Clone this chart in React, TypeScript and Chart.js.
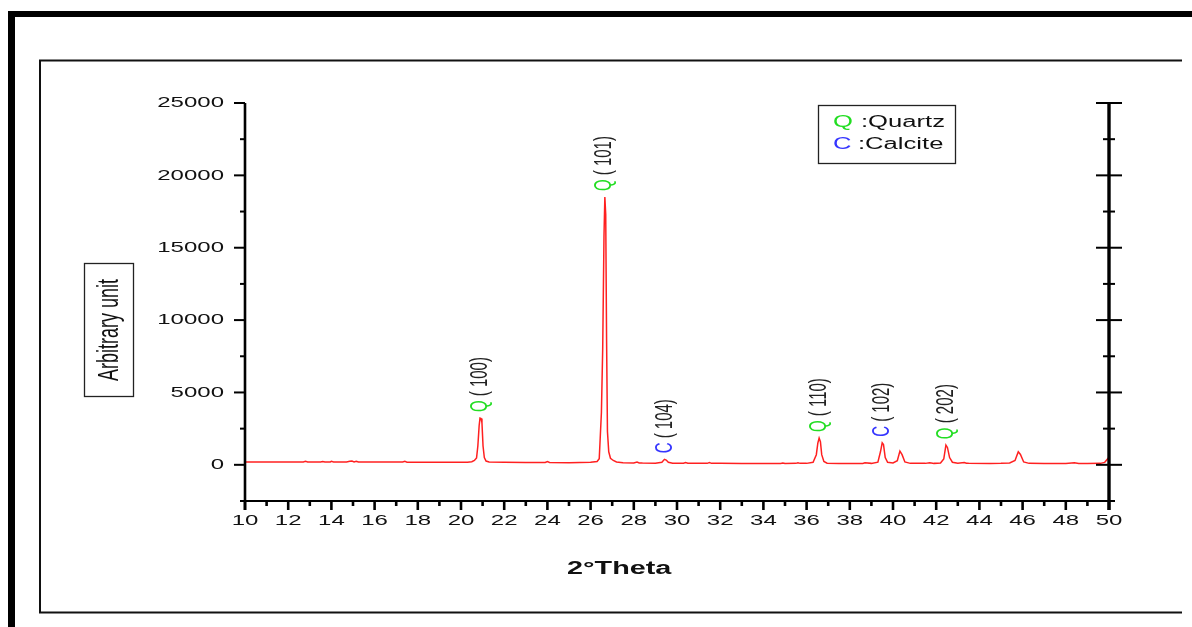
import React, { useEffect, useRef } from 'react';
import { Chart, registerables } from 'chart.js';

Chart.register(...registerables);

// ---- data ----
const twoTheta = [
  10.0, 11.0, 12.0, 12.7, 12.8, 12.9, 13.5, 13.6, 13.7, 13.95, 14.0, 14.1,
  14.7, 14.85, 14.95, 15.05, 15.15, 15.25, 16.0, 17.3, 17.4, 17.5, 18.5, 19.5,
  20.3, 20.5, 20.62, 20.72, 20.78, 20.84, 20.88, 20.93, 20.97, 21.02, 21.08, 21.16,
  21.3, 22.0, 23.0, 23.9, 24.0, 24.1, 25.0, 26.0, 26.3, 26.4, 26.44, 26.5,
  26.56, 26.62, 26.66, 26.7, 26.74, 26.78, 26.84, 26.92, 27.05, 27.2, 27.5, 28.0,
  28.15, 28.25, 28.4, 29.0, 29.3, 29.42, 29.5, 29.6, 29.8, 30.3, 30.4, 30.5,
  31.0, 31.4, 31.5, 31.6, 32.0, 33.0, 34.0, 34.8, 34.9, 35.0, 35.5, 35.6,
  35.7, 36.0, 36.3, 36.45, 36.52, 36.58, 36.64, 36.7, 36.8, 36.95, 37.5, 38.0,
  38.6, 38.7, 39.0, 39.3, 39.42, 39.5, 39.56, 39.64, 39.75, 40.0, 40.2, 40.32,
  40.42, 40.55, 40.8, 41.5, 41.7, 41.9, 42.2, 42.35, 42.45, 42.52, 42.62, 42.75,
  43.0, 43.3, 43.4, 43.5, 44.5, 45.0, 45.4, 45.65, 45.8, 45.9, 46.05, 46.3,
  47.0, 48.0, 48.4, 48.6, 49.0, 49.6, 49.8, 50.0,
];
const intensity = [
  190, 190, 195, 195, 240, 195, 195, 230, 195, 200, 240, 195,
  200, 250, 260, 205, 250, 195, 190, 190, 240, 185, 180, 175,
  180, 210, 300, 480, 1300, 2700, 3230, 3200, 2900, 1300, 500, 260,
  190, 170, 160, 160, 220, 160, 150, 170, 230, 420, 1700, 3600,
  8000, 15800, 18500, 17300, 8600, 2300, 900, 450, 300, 200, 150, 130,
  190, 130, 120, 110, 180, 380, 330, 180, 110, 110, 160, 110,
  100, 100, 150, 100, 100, 90, 90, 90, 130, 90, 100, 140,
  100, 100, 180, 700, 1500, 1850, 1600, 700, 230, 110, 95, 90,
  90, 140, 100, 180, 900, 1520, 1400, 500, 170, 130, 280, 950,
  700, 200, 100, 100, 150, 100, 130, 400, 1360, 1200, 500, 180,
  110, 160, 110, 100, 90, 100, 130, 300, 900, 720, 200, 100,
  90, 90, 140, 90, 90, 100, 170, 520,
];

// peak annotations
const peakTheta = [20.9, 26.66, 29.45, 36.58, 39.5, 42.45];
const peakIntensity = [3230, 18500, 380, 1850, 1520, 1360];
const peakPhase = ['Q', 'Q', 'C', 'Q', 'C', 'Q'];
const peakHkl = ['100', '101', '104', '110', '102', '202'];

// legend
const legendLetters = ['Q', 'C'];
const legendNames = [':Quartz', ':Calcite'];

// tick labels
const xTickLabels = ['10', '12', '14', '16', '18', '20', '22', '24', '26', '28', '30', '32', '34', '36', '38', '40', '42', '44', '46', '48', '50'];
const yTickLabels = ['0', '5000', '10000', '15000', '20000', '25000'];

const xTitle = '2°Theta';
const yTitle = 'Arbitrary unit';

// ---- styles ----
const FONT = '"Liberation Sans", Arial, sans-serif';
const SX = 1.6; // horizontal stretch seen in the reference
const GREEN = '#22dd22';
const BLUE = '#3535ff';
const phaseColor: Record<string, string> = { Q: GREEN, C: BLUE };

function sText(
  ctx: CanvasRenderingContext2D,
  text: string,
  x: number,
  y: number,
  font: string,
  color: string,
  align: CanvasTextAlign,
  rot = false
) {
  ctx.save();
  ctx.translate(x, y);
  ctx.scale(SX, 1);
  if (rot) ctx.rotate(-Math.PI / 2);
  ctx.font = font;
  ctx.fillStyle = color;
  ctx.textAlign = align;
  ctx.textBaseline = 'middle';
  ctx.fillText(text, 0, 0);
  ctx.restore();
}

function line(ctx: CanvasRenderingContext2D, x1: number, y1: number, x2: number, y2: number, w: number) {
  ctx.lineWidth = w;
  ctx.beginPath();
  ctx.moveTo(x1, y1);
  ctx.lineTo(x2, y2);
  ctx.stroke();
}

const decor = {
  id: 'decor',
  beforeDraw(chart: any) {
    const ctx: CanvasRenderingContext2D = chart.ctx;
    ctx.save();
    ctx.fillStyle = '#fff';
    ctx.fillRect(0, 0, chart.width, chart.height);
    // outer thick frame
    ctx.fillStyle = '#000';
    ctx.fillRect(8, 11, 7, chart.height - 11);
    ctx.fillRect(8, 11, chart.width - 8, 6);
    // inner thin frame (left, top, bottom)
    ctx.strokeStyle = '#111';
    ctx.lineWidth = 2;
    ctx.beginPath();
    ctx.moveTo(1182, 60.5);
    ctx.lineTo(40, 60.5);
    ctx.lineTo(40, 612.5);
    ctx.lineTo(1182, 612.5);
    ctx.stroke();
    ctx.restore();
  },
  afterDraw(chart: any) {
    const ctx: CanvasRenderingContext2D = chart.ctx;
    const xs = chart.scales.x;
    const ys = chart.scales.y;
    const { left, right, top, bottom } = chart.chartArea;
    ctx.save();
    ctx.strokeStyle = '#000';
    ctx.lineCap = 'butt';

    // axis lines
    line(ctx, left - 1, bottom, right + 1, bottom, 2.2);
    line(ctx, left, top, left, bottom + 9, 2.6);
    line(ctx, right, top, right, bottom + 9, 3.4);

    // x ticks
    for (const t of xs.ticks) {
      const px = xs.getPixelForValue(t.value);
      const major = Math.round(t.value) % 2 === 0;
      line(ctx, px, bottom, px, bottom + (major ? 9 : 5), 2.6);
    }
    // y ticks (left outward, right crossing)
    for (const t of ys.ticks) {
      const py = ys.getPixelForValue(t.value);
      const major = Math.round(t.value) % 5000 === 0;
      line(ctx, left - (major ? 11 : 5), py, left, py, 2);
      line(ctx, right - (major ? 13 : 6), py, right + (major ? 13 : 6), py, 2);
    }

    // tick labels
    const tickFont = `15px ${FONT}`;
    for (const lab of xTickLabels) {
      const px = xs.getPixelForValue(Number(lab));
      sText(ctx, lab, px, bottom + 20, tickFont, '#111', 'center');
    }
    for (const lab of yTickLabels) {
      const py = ys.getPixelForValue(Number(lab));
      sText(ctx, lab, left - 21, py, tickFont, '#111', 'right');
    }

    // x title
    sText(ctx, xTitle, 567, 569, `bold 18px ${FONT}`, '#111', 'left');

    // y title in a box
    ctx.strokeStyle = '#222';
    ctx.lineWidth = 1.3;
    ctx.strokeRect(84.5, 263.5, 49, 133);
    sText(ctx, yTitle, 110, 330, `18px ${FONT}`, '#111', 'center', true);

    // legend box
    ctx.strokeRect(818.5, 105.5, 137, 58);
    const legY = [122.5, 145];
    const nameX = [861, 858];
    legendLetters.forEach((l, i) => {
      sText(ctx, l, 833, legY[i], `16px ${FONT}`, phaseColor[l], 'left');
      sText(ctx, legendNames[i], nameX[i], legY[i], `16px ${FONT}`, '#111', 'left');
    });

    // peak annotations (rotated, reading bottom to top)
    const pf = `15px ${FONT}`;
    peakTheta.forEach((th, i) => {
      const px = xs.getPixelForValue(th);
      const py = ys.getPixelForValue(peakIntensity[i]) - 6;
      ctx.save();
      ctx.translate(px, py);
      ctx.scale(SX, 1);
      ctx.rotate(-Math.PI / 2);
      ctx.font = pf;
      ctx.textAlign = 'left';
      ctx.textBaseline = 'middle';
      ctx.fillStyle = phaseColor[peakPhase[i]];
      ctx.fillText(peakPhase[i], 0, 0);
      const w = ctx.measureText(peakPhase[i] + ' ').width;
      ctx.fillStyle = '#222';
      ctx.fillText('( ' + peakHkl[i] + ')', w, 0);
      ctx.restore();
    });

    ctx.restore();
  },
};

export default function App() {
  const ref = useRef<HTMLCanvasElement>(null);
  useEffect(() => {
    document.body.style.margin = '0';
    const canvas = ref.current!;
    const chart = new Chart(canvas, {
      type: 'line',
      data: {
        datasets: [
          {
            data: twoTheta.map((x, i) => ({ x, y: intensity[i] })),
            borderColor: '#ff2020',
            borderWidth: 1.5,
            pointRadius: 0,
            tension: 0,
            fill: false,
          },
        ],
      },
      options: {
        animation: false,
        responsive: false,
        devicePixelRatio: 1,
        layout: { padding: { left: 245, top: 103, right: 83, bottom: 126 } },
        plugins: { legend: { display: false }, tooltip: { enabled: false } },
        scales: {
          x: {
            type: 'linear',
            min: 10,
            max: 50,
            ticks: { display: false, stepSize: 1 },
            grid: { display: false },
            border: { display: false },
            afterFit: (s: any) => {
              s.height = 0;
            },
          },
          y: {
            type: 'linear',
            min: -2500,
            max: 25000,
            ticks: { display: false, stepSize: 2500 },
            grid: { display: false },
            border: { display: false },
            afterFit: (s: any) => {
              s.width = 0;
            },
          },
        },
      },
      plugins: [decor],
    } as any);
    return () => chart.destroy();
  }, []);
  return (
    <div style={{ position: 'fixed', left: 0, top: 0, width: 1192, height: 627, background: '#fff' }}>
      <canvas ref={ref} width={1192} height={627} style={{ display: 'block', width: 1192, height: 627 }} />
    </div>
  );
}
